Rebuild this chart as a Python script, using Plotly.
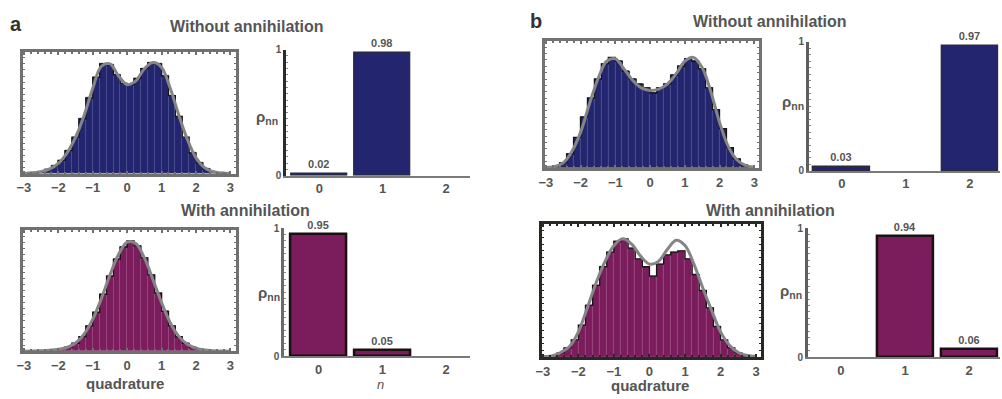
import plotly.graph_objects as go

W, H = 1002, 399

# Histogram bin centres (bin width 0.2) and sample points of the smooth fits
bin_centers = [-2.9, -2.7, -2.5, -2.3, -2.1, -1.9, -1.7, -1.5, -1.3, -1.1,
               -0.9, -0.7, -0.5, -0.3, -0.1, 0.1, 0.3, 0.5, 0.7, 0.9,
               1.1, 1.3, 1.5, 1.7, 1.9, 2.1, 2.3, 2.5, 2.7, 2.9]
curve_x = [-3, -2.75, -2.5, -2.25, -2, -1.75, -1.5, -1.25, -1, -0.75, -0.5, -0.25,
           0, 0.25, 0.5, 0.75, 1, 1.25, 1.5, 1.75, 2, 2.25, 2.5, 2.75, 3]

# (a) single-photon input, without annihilation
hist_a_without = [0.002, 0.006, 0.015, 0.035, 0.065, 0.11, 0.19, 0.30, 0.45, 0.62,
                  0.79, 0.90, 0.89, 0.81, 0.74, 0.73, 0.78, 0.86, 0.91, 0.90,
                  0.80, 0.64, 0.47, 0.30, 0.17, 0.09, 0.04, 0.016, 0.006, 0.002]
curve_a_without = [0.003, 0.008, 0.018, 0.04, 0.085, 0.17, 0.30, 0.48, 0.70, 0.88, 0.90, 0.80,
                   0.73, 0.76, 0.86, 0.91, 0.87, 0.70, 0.48, 0.28, 0.13, 0.05, 0.017, 0.006, 0.002]
# (a) with annihilation
hist_a_with = [0.0, 0.001, 0.002, 0.004, 0.009, 0.017, 0.035, 0.066, 0.12, 0.21,
               0.32, 0.47, 0.62, 0.76, 0.86, 0.91, 0.87, 0.77, 0.63, 0.48,
               0.33, 0.21, 0.12, 0.065, 0.032, 0.015, 0.006, 0.003, 0.001, 0.0]
curve_a_with = [0.001, 0.002, 0.004, 0.008, 0.016, 0.032, 0.068, 0.142, 0.265, 0.435, 0.63, 0.80,
                0.90, 0.89, 0.77, 0.59, 0.40, 0.236, 0.123, 0.058, 0.025, 0.01, 0.004, 0.002, 0.001]
# (b) two-photon input, without annihilation
hist_b_without = [0.004, 0.014, 0.04, 0.11, 0.24, 0.40, 0.55, 0.70, 0.82, 0.87,
                  0.84, 0.76, 0.70, 0.66, 0.63, 0.59, 0.63, 0.66, 0.73, 0.80,
                  0.86, 0.84, 0.78, 0.63, 0.46, 0.31, 0.16, 0.07, 0.025, 0.008]
curve_b_without = [0.003, 0.012, 0.04, 0.13, 0.28, 0.50, 0.70, 0.84, 0.86, 0.78, 0.69, 0.63,
                   0.61, 0.62, 0.66, 0.74, 0.84, 0.87, 0.79, 0.60, 0.36, 0.17, 0.065, 0.02, 0.006]
# (b) with annihilation
hist_b_with = [0.003, 0.01, 0.03, 0.07, 0.13, 0.24, 0.39, 0.54, 0.68, 0.79,
               0.87, 0.89, 0.82, 0.74, 0.68, 0.61, 0.70, 0.77, 0.79, 0.80,
               0.74, 0.62, 0.50, 0.37, 0.23, 0.13, 0.07, 0.032, 0.012, 0.004]
curve_b_with = [0.002, 0.008, 0.035, 0.08, 0.19, 0.37, 0.56, 0.72, 0.84, 0.89, 0.85, 0.76,
                0.70, 0.72, 0.81, 0.88, 0.84, 0.70, 0.52, 0.35, 0.19, 0.09, 0.035, 0.012, 0.004]

# Photon-number populations rho_nn
photon_n = [0, 1, 2]
rho_a_without = [0.02, 0.98, 0.0]
rho_a_with = [0.95, 0.05, 0.0]
rho_b_without = [0.03, 0.0, 0.97]
rho_b_with = [0.0, 0.94, 0.06]

quad_ticks = [-3, -2, -1, 0, 1, 2, 3]

NAVY = "#23266e"
NAVY_EDGE = "#4b508f"
PLUM = "#7b1d5d"
PLUM_EDGE = "#9a4a80"
GREY_TXT = "#555555"
FONT = "Liberation Sans, Arial, sans-serif"


def xd(px):
    return px / W


def yd(py):
    return 1 - py / H


fig = go.Figure()

# axis slot -> (pixel box left, right, top, bottom)
boxes = {
    1: (17, 231, 47, 173),
    2: (282, 467, 45, 175),
    3: (17, 231, 231, 356),
    4: (280, 467, 229, 361),
    5: (542, 758, 36, 167),
    6: (808, 1000, 37, 170),
    7: (539, 760, 225, 362),
    8: (807, 1000, 229, 362),
}


def ax_names(i):
    return ("x" if i == 1 else f"x{i}"), ("y" if i == 1 else f"y{i}")


def add_quadrature(i, hist, curve, fill, edge, frame_color):
    xa, ya = ax_names(i)
    fig.add_trace(go.Bar(x=bin_centers, y=hist, width=0.2,
                         marker=dict(color=fill, line=dict(color=edge, width=0.7)),
                         xaxis=xa, yaxis=ya, showlegend=False, hoverinfo="skip"))
    fig.add_trace(go.Scatter(x=bin_centers, y=hist, mode="lines",
                             line=dict(shape="hvh", color="#141414", width=1.3),
                             xaxis=xa, yaxis=ya, showlegend=False, hoverinfo="skip"))
    fig.add_trace(go.Scatter(x=curve_x, y=curve, mode="lines",
                             line=dict(shape="spline", color="#858585", width=3),
                             xaxis=xa, yaxis=ya, showlegend=False, hoverinfo="skip"))
    l, r, t, b = boxes[i]
    fig.layout[("xaxis" if i == 1 else f"xaxis{i}")] = dict(
        domain=[xd(l), xd(r)], range=[-3.03, 3.15], anchor=ya,
        showline=True, linecolor=frame_color, linewidth=3, mirror="allticks",
        ticks="inside", ticklen=3, tickcolor=frame_color, tickwidth=1.5,
        tickvals=quad_ticks, ticktext=[str(v).replace("-", "\u2212") for v in quad_ticks],
        tickfont=dict(family=FONT, size=13, color=GREY_TXT, weight="bold"),
        minor=dict(ticks="inside", dtick=0.2, ticklen=2, tickcolor=frame_color),
        showgrid=False, zeroline=False, fixedrange=True)
    fig.layout[("yaxis" if i == 1 else f"yaxis{i}")] = dict(
        domain=[yd(b), yd(t)], range=[0, 1.0], anchor=xa,
        showline=True, linecolor=frame_color, linewidth=3, mirror="allticks",
        ticks="inside", ticklen=2, tickcolor=frame_color, dtick=0.05,
        showticklabels=False, showgrid=False, zeroline=False, fixedrange=True)


def add_populations(i, rho, fill, outline, outline_w, yline_color, xrange_):
    xa, ya = ax_names(i)
    # only populated photon numbers get a bar and a value label
    ns = [n for n, v in zip(photon_n, rho) if v > 0]
    vals = [v for v in rho if v > 0]
    fig.add_trace(go.Bar(x=ns, y=vals, width=0.88, text=[f"{v:.2f}" for v in vals],
                         textposition="outside", cliponaxis=False,
                         textfont=dict(family=FONT, size=11, color=GREY_TXT, weight="bold"),
                         marker=dict(color=fill, line=dict(color=outline, width=outline_w)),
                         xaxis=xa, yaxis=ya, showlegend=False, hoverinfo="skip"))
    l, r, t, b = boxes[i]
    fig.layout[("xaxis" if i == 1 else f"xaxis{i}")] = dict(
        domain=[xd(l), xd(r)], range=xrange_, anchor=ya,
        showline=True, linecolor="#7a7a7a", linewidth=2,
        tickvals=photon_n, ticktext=[str(n) for n in photon_n], ticks="",
        tickfont=dict(family=FONT, size=13, color=GREY_TXT, weight="bold"),
        showgrid=False, zeroline=False, fixedrange=True)
    fig.layout[("yaxis" if i == 1 else f"yaxis{i}")] = dict(
        domain=[yd(b), yd(t)], range=[0, 1.0], anchor=xa,
        showline=True, linecolor=yline_color, linewidth=3,
        tickvals=[0, 1], ticktext=["0", "1"], ticks="inside", ticklen=2,
        tickcolor="#8a8a8a",
        minor=dict(ticks="inside", dtick=0.05, ticklen=2, tickcolor="#8a8a8a"),
        tickfont=dict(family=FONT, size=10, color=GREY_TXT, weight="bold"),
        showgrid=False, zeroline=False, fixedrange=True)


add_quadrature(1, hist_a_without, curve_a_without, NAVY, NAVY_EDGE, "#707070")
add_populations(2, rho_a_without, NAVY, "#2a2a3a", 1.2, "#2b2b2b", [-0.52, 2.38])
add_quadrature(3, hist_a_with, curve_a_with, PLUM, PLUM_EDGE, "#707070")
add_populations(4, rho_a_with, PLUM, "#1a1010", 2.5, "#6a6a6a", [-0.54, 2.38])
add_quadrature(5, hist_b_without, curve_b_without, NAVY, NAVY_EDGE, "#727272")
add_populations(6, rho_b_without, NAVY, "#2a2a3a", 1.5, "#5f5f5f", [-0.51, 2.47])
add_quadrature(7, hist_b_with, curve_b_with, PLUM, PLUM_EDGE, "#262a22")
add_populations(8, rho_b_with, PLUM, "#1a1010", 2.5, "#5f5f5f", [-0.51, 2.48])

annotations = []


def note(text, px, py, size, color=GREY_TXT, bold=True, italic=False):
    annotations.append(dict(
        text=text, x=xd(px), y=yd(py), xref="paper", yref="paper",
        showarrow=False, xanchor="center", yanchor="middle",
        font=dict(family=FONT, size=size, color=color,
                  weight="bold" if bold else "normal",
                  style="italic" if italic else "normal")))


note("a", 10, 19, 20, color="#333333")
note("b", 533, 15, 20, color="#333333")
note("Without annihilation", 242, 21, 16)
note("With annihilation", 241, 211, 16)
note("Without annihilation", 769, 16, 16)
note("With annihilation", 769, 211, 16)
note("quadrature", 120, 389, 15)
note("quadrature", 648, 391, 15)
note("n", 377, 390, 13, bold=False, italic=True)
for px, py in [(263, 115), (265, 296), (792, 100), (790, 294)]:
    note("\u03c1<sub>nn</sub>", px, py, 15)

fig.update_layout(
    width=W, height=H, margin=dict(l=0, r=0, t=0, b=0),
    paper_bgcolor="white", plot_bgcolor="white",
    barmode="overlay", bargap=0, annotations=annotations,
    font=dict(family=FONT),
)

fig.write_html("out.html")
